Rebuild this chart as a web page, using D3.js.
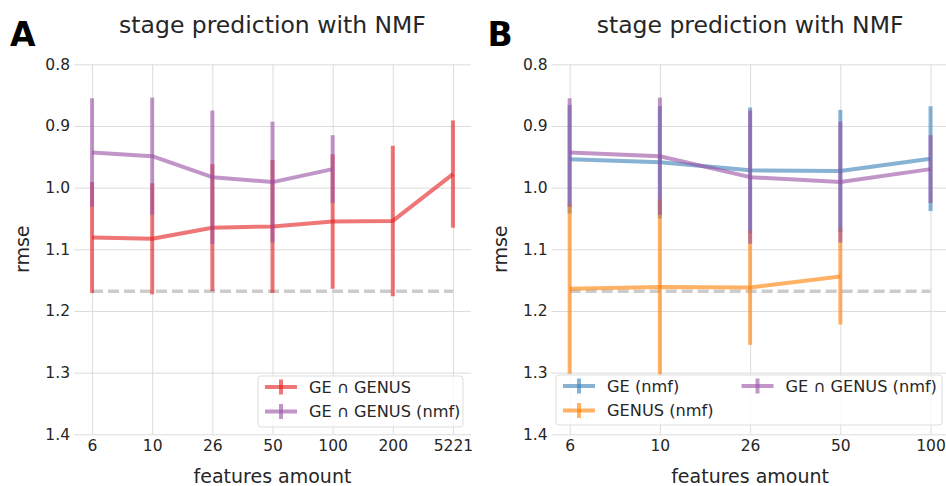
<!DOCTYPE html>
<html>
<head>
<meta charset="utf-8">
<script src="https://cdn.jsdelivr.net/npm/d3@7"></script>
<style>
  body { margin: 0; background: #fff; }
  text { font-family: "DejaVu Sans", sans-serif; fill: #262626; }
</style>
</head>
<body>
<svg id="chart"></svg>
<script>
// data (rmse, mean and +/- error)

var featuresA = ["6", "10", "26", "50", "100", "200", "5221"],
	featuresB = ["6", "10", "26", "50", "100"];

var yTicks = [0.8, 0.9, 1.0, 1.1, 1.2, 1.3, 1.4];

var geGenusMean = [1.081, 1.083, 1.065, 1.063, 1.055, 1.054, 0.978],
	geGenusErr = [0.090, 0.090, 0.103, 0.108, 0.109, 0.122, 0.087];

var geGenusNmfMean = [0.943, 0.949, 0.983, 0.991, 0.970],
	geGenusNmfErr = [0.088, 0.095, 0.108, 0.098, 0.055];

var geNmfMean = [0.954, 0.959, 0.972, 0.973, 0.953],
	geNmfErr = [0.088, 0.091, 0.102, 0.099, 0.085];

var genusNmfMean = [1.164, 1.161, 1.162, 1.144],
	genusNmfErr = [0.138, 0.142, 0.093, 0.078];

var baselineRmse = 1.168;

// svg measurements

var width = 946,
	height = 486,
	top_ = 64.3,
	bottom = 434.3,
	plotW = 397;

var red = "#e41a1c", purple = "#984ea3", blue = "#377eb8", orange = "#ff7f00";

var svg = d3.select('#chart')
			.attr('width', width)
			.attr('height', height);

var yScale = d3.scaleLinear()
				.domain([0.8, 1.4])
				.range([top_, bottom]); // rmse grows downwards

drawPanel({
	left: 74,
	letter: 'A',
	features: featuresA,
	series: [
		{ name: 'GE \u2229 GENUS', color: red, mean: geGenusMean, err: geGenusErr },
		{ name: 'GE \u2229 GENUS (nmf)', color: purple, mean: geGenusNmfMean, err: geGenusNmfErr }
	],
	legend: { x: 258, y: 376, w: 205, h: 51, cols: [[0, 1]], colX: [0] }
});

drawPanel({
	left: 551.6,
	letter: 'B',
	features: featuresB,
	series: [
		{ name: 'GE (nmf)', color: blue, mean: geNmfMean, err: geNmfErr },
		{ name: 'GENUS (nmf)', color: orange, mean: genusNmfMean, err: genusNmfErr },
		{ name: 'GE \u2229 GENUS (nmf)', color: purple, mean: geGenusNmfMean, err: geGenusNmfErr }
	],
	legend: { x: 556, y: 375, w: 386, h: 50, cols: [[0, 1], [2]], colX: [0, 178.5] }
});

function drawPanel(p) {
	var g = svg.append('g');
	var n = p.features.length;

	var xScale = d3.scalePoint()
					.domain(p.features)
					.range([p.left, p.left + plotW])
					.padding(0.05 * (n - 1)); // matplotlib 5% margins

	// grid through the axes
	var xAxis = d3.axisBottom(xScale)
				  .tickSize(-(bottom - top_))
				  .tickPadding(5.5);

	var yAxis = d3.axisLeft(yScale)
				  .tickValues(yTicks)
				  .tickFormat(d3.format('.1f'))
				  .tickSize(-plotW)
				  .tickPadding(4);

	var gx = g.append('g')
		.attr('transform', 'translate(0,' + bottom + ')')
		.call(xAxis);

	var gy = g.append('g')
		.attr('transform', 'translate(' + p.left + ',0)')
		.call(yAxis);

	[gx, gy].forEach(function(a) {
		a.select('.domain').remove();
		a.selectAll('line').attr('stroke', '#dcdcdc').attr('stroke-width', 1);
		a.selectAll('text')
			.attr('fill', '#262626')
			.style('font-size', '15.5px')
			.style('font-family', 'DejaVu Sans');
	});

	// baseline
	g.append('line')
		.attr('x1', xScale(p.features[0]))
		.attr('x2', xScale(p.features[n - 1]))
		.attr('y1', yScale(baselineRmse))
		.attr('y2', yScale(baselineRmse))
		.attr('stroke', '#cccccc')
		.attr('stroke-width', 3.5)
		.attr('stroke-dasharray', '11,5');

	var line = d3.line()
				 .x(d => d.x)
				 .y(d => yScale(d.m));

	p.series.forEach(function(s) {
		var pts = s.mean.map((m, i) => ({ x: xScale(p.features[i]), m: m, e: s.err[i] }));

		g.append('g')
			.selectAll('line')
			.data(pts)
			.enter()
			.append('line')
				.attr('x1', d => d.x)
				.attr('x2', d => d.x)
				.attr('y1', d => yScale(d.m - d.e))
				.attr('y2', d => yScale(d.m + d.e))
				.attr('stroke', s.color)
				.attr('stroke-width', 4)
				.attr('stroke-opacity', 0.6);

		g.append('path')
			.datum(pts)
			.attr('d', line)
			.attr('fill', 'none')
			.attr('stroke', s.color)
			.attr('stroke-width', 4)
			.attr('stroke-opacity', 0.6)
			.attr('stroke-linejoin', 'round');
	});

	// legend
	var L = p.legend;
	var lg = g.append('g').attr('transform', 'translate(' + L.x + ',' + L.y + ')');
	lg.append('rect')
		.attr('width', L.w)
		.attr('height', L.h)
		.attr('rx', 3)
		.attr('fill', '#fff')
		.attr('fill-opacity', 0.8)
		.attr('stroke', '#dddddd');

	L.cols.forEach(function(col, c) {
		col.forEach(function(si, r) {
			var s = p.series[si];
			var hx = 7 + L.colX[c], hy = 11 + r * 24.5;
			lg.append('line')
				.attr('x1', hx).attr('x2', hx + 32)
				.attr('y1', hy).attr('y2', hy)
				.attr('stroke', s.color).attr('stroke-width', 4).attr('stroke-opacity', 0.6);
			lg.append('line')
				.attr('x1', hx + 16).attr('x2', hx + 16)
				.attr('y1', hy - 7.5).attr('y2', hy + 7.5)
				.attr('stroke', s.color).attr('stroke-width', 4).attr('stroke-opacity', 0.6);
			lg.append('text')
				.attr('x', hx + 44)
				.attr('y', hy)
				.attr('dy', '0.35em')
				.style('font-size', '16.2px')
				.text(s.name);
		});
	});

	// titles
	g.append('text')
		.attr('x', p.left + plotW / 2)
		.attr('y', 33)
		.style('text-anchor', 'middle')
		.style('font-size', '23.5px')
		.text('stage prediction with NMF');

	g.append('text')
		.attr('x', p.left + plotW / 2)
		.attr('y', 482.5)
		.style('text-anchor', 'middle')
		.style('font-size', '19px')
		.text('features amount');

	g.append('text')
		.attr('transform', 'translate(' + (p.left - 45) + ',' + ((top_ + bottom) / 2) + ') rotate(-90)')
		.style('text-anchor', 'middle')
		.style('font-size', '19px')
		.text('rmse');

	g.append('text')
		.attr('x', p.left - 64)
		.attr('y', 45.5)
		.style('font-size', '33px')
		.style('font-weight', 'bold')
		.style('fill', '#000')
		.text(p.letter);
}
</script>
</body>
</html>
